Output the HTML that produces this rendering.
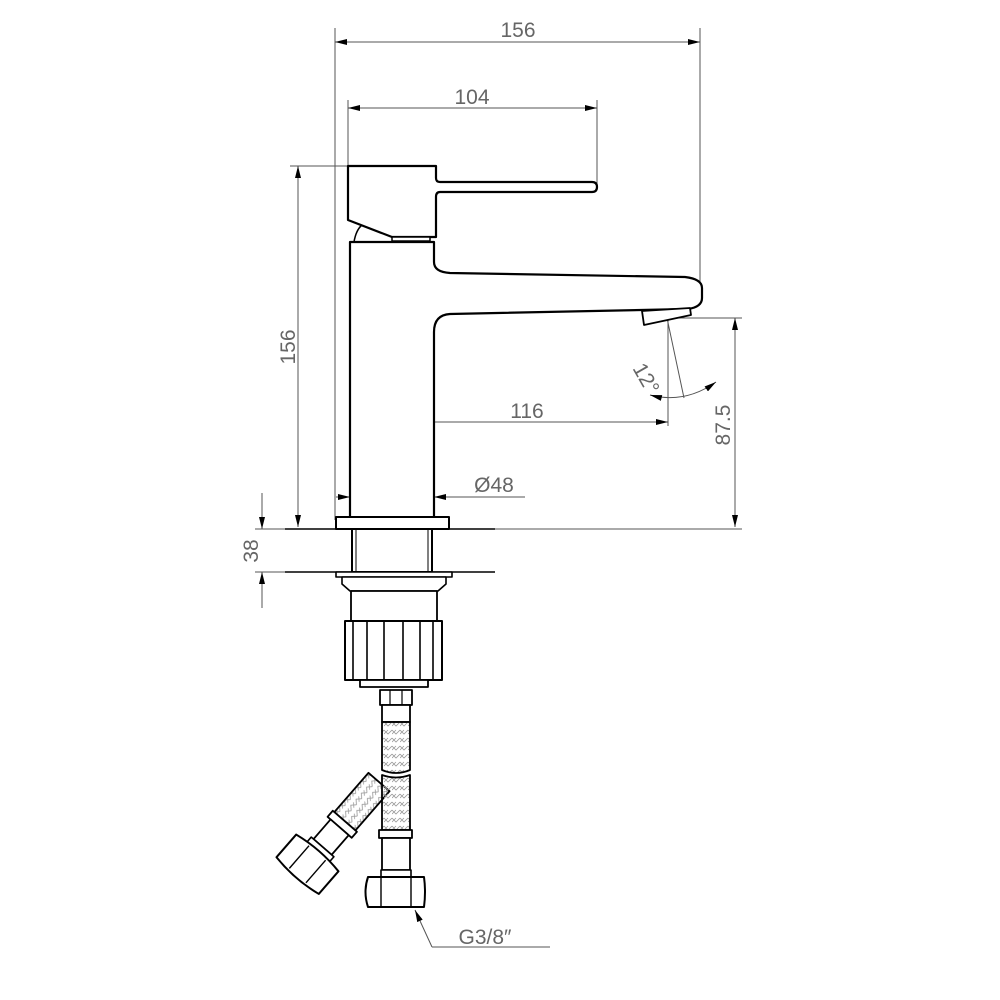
<!DOCTYPE html>
<html><head><meta charset="utf-8"><style>
html,body{margin:0;padding:0;background:#fff}
svg{display:block}
text{font-family:"Liberation Sans",sans-serif;fill:#666;font-size:21px}
</style></head><body>
<svg width="1000" height="1000" viewBox="0 0 1000 1000" xmlns="http://www.w3.org/2000/svg">
<defs>
<pattern id="br" width="8" height="8" patternUnits="userSpaceOnUse">
<path d="M0 2 L4 6 L8 2 M0 6 L4 2" stroke="#999" stroke-width="0.8" fill="none"/>
</pattern>
<marker id="a" markerWidth="12" markerHeight="6" refX="12" refY="3" orient="auto" markerUnits="userSpaceOnUse"><path d="M0 0 L12 3 L0 6z" fill="#000"/></marker>
<marker id="b" markerWidth="12" markerHeight="6" refX="0" refY="3" orient="auto" markerUnits="userSpaceOnUse"><path d="M12 0 L0 3 L12 6z" fill="#000"/></marker>
</defs>
<g stroke="#555" stroke-width="1" fill="none">
<line x1="335" y1="28" x2="335" y2="520"/><line x1="700" y1="28" x2="700" y2="285"/>
<line x1="335" y1="42" x2="700" y2="42" marker-start="url(#b)" marker-end="url(#a)"/>
<line x1="348" y1="100" x2="348" y2="165"/><line x1="597" y1="100" x2="597" y2="185"/>
<line x1="348" y1="108" x2="597" y2="108" marker-start="url(#b)" marker-end="url(#a)"/>
<line x1="290" y1="166" x2="348" y2="166"/>
<line x1="298" y1="166" x2="298" y2="527" marker-start="url(#b)" marker-end="url(#a)"/>
<line x1="668" y1="318" x2="742" y2="318"/>
<line x1="735" y1="318" x2="735" y2="527" marker-start="url(#b)" marker-end="url(#a)"/>
<line x1="449" y1="529" x2="742" y2="529"/>
<line x1="392" y1="415" x2="392" y2="527"/><line x1="668" y1="290" x2="668" y2="426"/>
<line x1="392" y1="422" x2="668" y2="422" marker-start="url(#b)" marker-end="url(#a)"/>
<line x1="660" y1="285" x2="684" y2="398"/>
<path d="M650 395 Q 685 404 716 382" marker-start="url(#b)" marker-end="url(#a)"/>
<line x1="336" y1="497" x2="350" y2="497" marker-end="url(#a)"/>
<line x1="350" y1="497" x2="434" y2="497"/>
<line x1="448" y1="497" x2="434" y2="497" marker-end="url(#a)"/>
<line x1="448" y1="497" x2="525" y2="497"/>
<line x1="262" y1="493" x2="262" y2="529" marker-end="url(#a)"/>
<line x1="262" y1="608" x2="262" y2="572" marker-end="url(#a)"/>
<line x1="255" y1="529" x2="285" y2="529"/><line x1="255" y1="572" x2="285" y2="572"/>
<line x1="432" y1="947" x2="415" y2="910" marker-end="url(#a)"/>
<line x1="432" y1="947" x2="550" y2="947"/>
</g>
<g fill="#555" stroke="none">
<text x="518" y="37" text-anchor="middle">156</text>
<text x="472" y="104" text-anchor="middle">104</text>
<text x="527" y="418" text-anchor="middle">116</text>
<text x="494" y="492" text-anchor="middle">Ø48</text>
<text x="485" y="944" text-anchor="middle">G3/8″</text>
<text transform="translate(295,347) rotate(-90)" text-anchor="middle">156</text>
<text transform="translate(730,425) rotate(-90)" text-anchor="middle">87.5</text>
<text transform="translate(258,551) rotate(-90)" text-anchor="middle">38</text>
<text transform="translate(640,382) rotate(60)" text-anchor="middle" font-size="19">12°</text>
</g>
<g stroke="#000" stroke-width="2.2" fill="#fff" stroke-linejoin="round">
<path d="M348 166 H436 V178 Q436 182 440 182 H592 Q597 182 597 187 Q597 192 592 192 H440 Q436 192 436 197 V237 H392 L348 220 Z"/>
<rect x="392" y="237" width="38" height="4" stroke-width="1.5"/>
<path d="M354 242 Q356 230 362 225" fill="none" stroke-width="1.5"/>
<path d="M350 520 V242 H434 V262 Q434 272 450 273 L685 277 Q702 279 702 288 V298 Q702 307 688 309 L450 314 Q434 315 434 332 V520"/>
<path d="M642 311 L690 308 L691 315 L644 325 Z" stroke-width="1.8"/>
<rect x="336" y="517" width="113" height="12" stroke-width="2"/>
<line x1="285" y1="529" x2="495" y2="529" stroke-width="1.6"/>
<line x1="285" y1="572" x2="495" y2="572" stroke-width="1.6"/>
<rect x="352" y="529" width="80" height="43" stroke-width="2"/>
<line x1="356" y1="529" x2="356" y2="572" stroke-width="1"/><line x1="428" y1="529" x2="428" y2="572" stroke-width="1"/>
<rect x="336" y="572" width="116" height="5" stroke-width="1.6"/>
<path d="M342 577 H446 V584 L438 591 H350 L342 584 Z" stroke-width="1.6"/>
<rect x="351" y="591" width="86" height="30" stroke-width="1.8"/>
<rect x="345" y="621" width="97" height="59" stroke-width="2"/>
<g stroke-width="1.6"><line x1="353" y1="621" x2="353" y2="680"/><line x1="367" y1="621" x2="367" y2="680"/><line x1="384" y1="621" x2="384" y2="680"/><line x1="403" y1="621" x2="403" y2="680"/><line x1="420" y1="621" x2="420" y2="680"/><line x1="433" y1="621" x2="433" y2="680"/></g>
<rect x="360" y="680" width="68" height="7" stroke-width="1.8"/>
<!-- angled hose (behind) -->
<g transform="translate(379,782) rotate(131)">
<path d="M0 -14 H52 V14 H0 Z" fill="url(#br)" stroke-width="1.8"/>
<rect x="52" y="-16" width="8" height="32" stroke-width="1.8"/>
<rect x="60" y="-12" width="26" height="24" stroke-width="1.8"/>
<rect x="86" y="-15" width="8" height="30" stroke-width="1.6"/>
<path d="M94 -28 H124 Q129 0 124 28 H94 Q89 0 94 -28 Z" stroke-width="2"/>
<line x1="94" y1="-11" x2="124" y2="-11" stroke-width="1.4"/><line x1="94" y1="11" x2="124" y2="11" stroke-width="1.4"/>
</g>
<!-- vertical hose -->
<rect x="380" y="690" width="32" height="15" stroke-width="1.8"/>
<line x1="390" y1="690" x2="390" y2="705" stroke-width="1.2"/><line x1="402" y1="690" x2="402" y2="705" stroke-width="1.2"/>
<rect x="382" y="705" width="28" height="17" stroke-width="1.8"/>
<path d="M382 722 V770 Q396 776 410 770 V722 Z" fill="url(#br)" stroke-width="1.8"/>
<path d="M382 830 V775 Q396 780 410 775 V830 Z" fill="url(#br)" stroke-width="1.8"/>
<rect x="379" y="830" width="33" height="8" stroke-width="1.8"/>
<rect x="382" y="838" width="28" height="32" stroke-width="1.8"/>
<rect x="381" y="870" width="30" height="7" stroke-width="1.6"/>
<path d="M368 877 H424 Q426 892 424 907 H368 Q363 892 368 877 Z" stroke-width="2"/>
<line x1="381" y1="877" x2="381" y2="907" stroke-width="1.4"/><line x1="411" y1="877" x2="411" y2="907" stroke-width="1.4"/>
</g>
</svg>
</body></html>
